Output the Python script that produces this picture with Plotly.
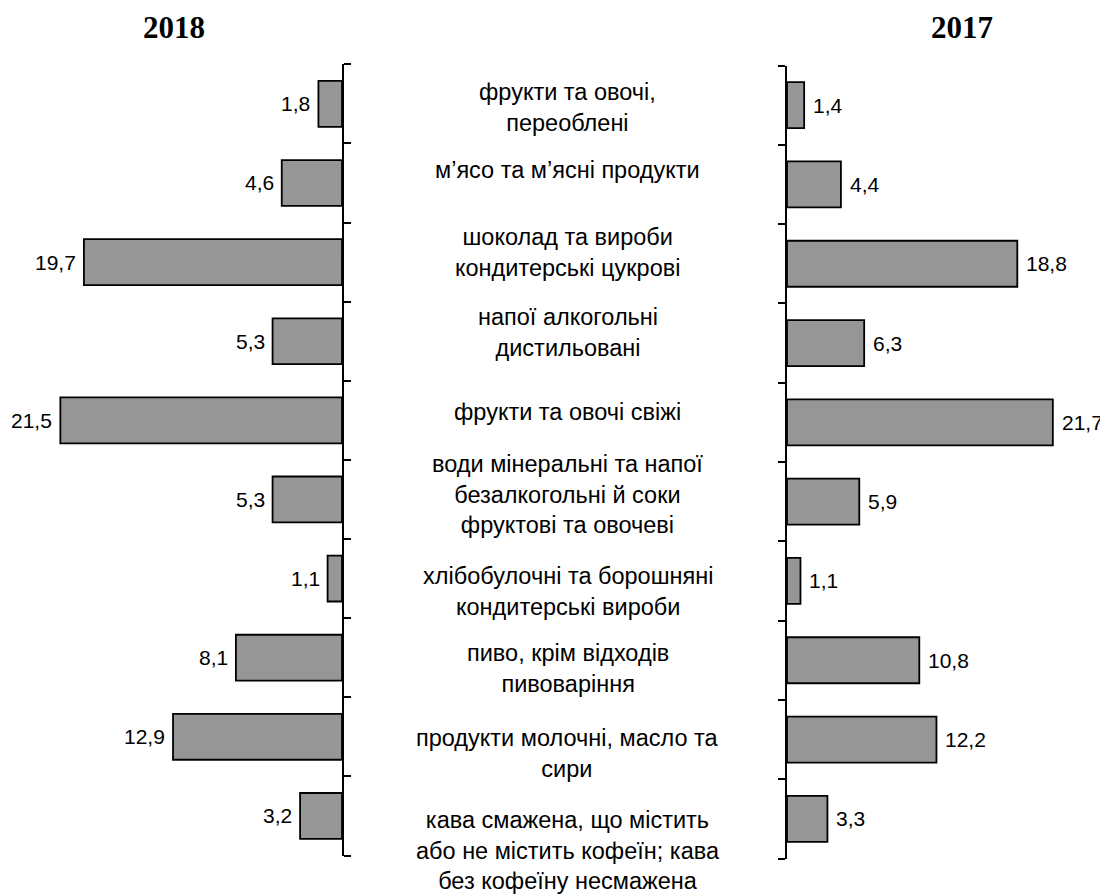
import plotly.graph_objects as go

# ---- data ----
categories = [
    "фрукти та овочі,<br>переоблені",
    "м’ясо та м’ясні продукти",
    "шоколад та вироби<br>кондитерські цукрові",
    "напої алкогольні<br>дистильовані",
    "фрукти та овочі свіжі",
    "води мінеральні та напої<br>безалкогольні й соки<br>фруктові та овочеві",
    "хлібобулочні та борошняні<br>кондитерські вироби",
    "пиво, крім відходів<br>пивоваріння",
    "продукти молочні, масло та<br>сири",
    "кава смажена, що містить<br>або не містить кофеїн; кава<br>без кофеїну несмажена",
]
values_2018 = [1.8, 4.6, 19.7, 5.3, 21.5, 5.3, 1.1, 8.1, 12.9, 3.2]
values_2017 = [1.4, 4.4, 18.8, 6.3, 21.7, 5.9, 1.1, 10.8, 12.2, 3.3]
year_left = "2018"
year_right = "2017"

# ---- layout constants (page pixels; the page body has an 8px margin) ----
OFF = 8
FW, FH = 1100, 888


def px(page_x):
    return (page_x - OFF) / FW


def py(page_y):
    return 1 - (page_y - OFF) / FH


positions = list(range(len(categories)))
tick_positions = [i - 0.5 for i in range(len(categories) + 1)]

BAR_FILL = "#969696"
SANS = "Liberation Sans, Arial, sans-serif"
SERIF = "Liberation Serif, Times New Roman, serif"

fig = go.Figure()

bar_common = dict(
    orientation="h",
    width=0.58,
    marker=dict(color=BAR_FILL, line=dict(color="black", width=1.8)),
    hoverinfo="skip",
    showlegend=False,
)

fig.add_trace(go.Bar(x=values_2018, y=positions, xaxis="x", yaxis="y", **bar_common))
fig.add_trace(go.Bar(x=values_2017, y=positions, xaxis="x2", yaxis="y2", **bar_common))

left_px_per_unit = 13.1
right_px_per_unit = 12.25
left_axis_px = 342.0
right_axis_px = 787.0

axis_hidden = dict(showgrid=False, zeroline=False, showticklabels=False,
                   showline=False, ticks="", fixedrange=True)

yaxis_common = dict(
    range=[len(categories) - 0.5, -0.5],
    tickmode="array",
    tickvals=tick_positions,
    showticklabels=False,
    ticks="outside",
    ticklen=7,
    tickwidth=2,
    tickcolor="black",
    showline=True,
    linewidth=2,
    linecolor="black",
    showgrid=False,
    zeroline=False,
)

fig.update_layout(
    width=FW,
    height=FH,
    margin=dict(l=0, r=0, t=0, b=0),
    paper_bgcolor="white",
    plot_bgcolor="rgba(0,0,0,0)",
    bargap=0.42,
    xaxis=dict(domain=[0, px(left_axis_px)],
               range=[(left_axis_px - OFF) / left_px_per_unit, 0], **axis_hidden),
    xaxis2=dict(domain=[px(right_axis_px), 1],
                range=[0, (OFF + FW - right_axis_px) / right_px_per_unit], **axis_hidden),
    yaxis=dict(domain=[py(855.5), py(64.3)], anchor="x", side="right", **yaxis_common),
    yaxis2=dict(domain=[py(858.5), py(65.5)], anchor="x2", side="left", **yaxis_common),
)


def fmt(v):
    return f"{v:.1f}".replace(".", ",")


# value labels next to the bar ends
for i, v in enumerate(values_2018):
    fig.add_annotation(x=v, y=i, xref="x", yref="y", text=fmt(v), showarrow=False,
                       xanchor="right", yanchor="middle", xshift=-6,
                       font=dict(family=SANS, size=21, color="black"))
for i, v in enumerate(values_2017):
    fig.add_annotation(x=v, y=i, xref="x2", yref="y2", text=fmt(v), showarrow=False,
                       xanchor="left", yanchor="middle", xshift=7,
                       font=dict(family=SANS, size=21, color="black"))

# category labels in the middle column
label_shift = [4, -13, -10, -9, -8, -5, 13, 11, 17, 35]
for i, (cat, sh) in enumerate(zip(categories, label_shift)):
    fig.add_annotation(
        x=px(568), xref="paper", y=i, yref="y",
        text=cat, showarrow=False, xanchor="center", yanchor="middle",
        yshift=-sh, align="center",
        font=dict(family=SANS, size=23.5, color="black"),
    )

# year titles
for label, xpos in ((year_left, 174), (year_right, 962)):
    fig.add_annotation(x=px(xpos), y=1, xref="paper", yref="paper",
                       text=f"<b>{label}</b>", showarrow=False,
                       xanchor="center", yanchor="top",
                       font=dict(family=SERIF, size=31, color="black"))

fig.write_html("out.html")
